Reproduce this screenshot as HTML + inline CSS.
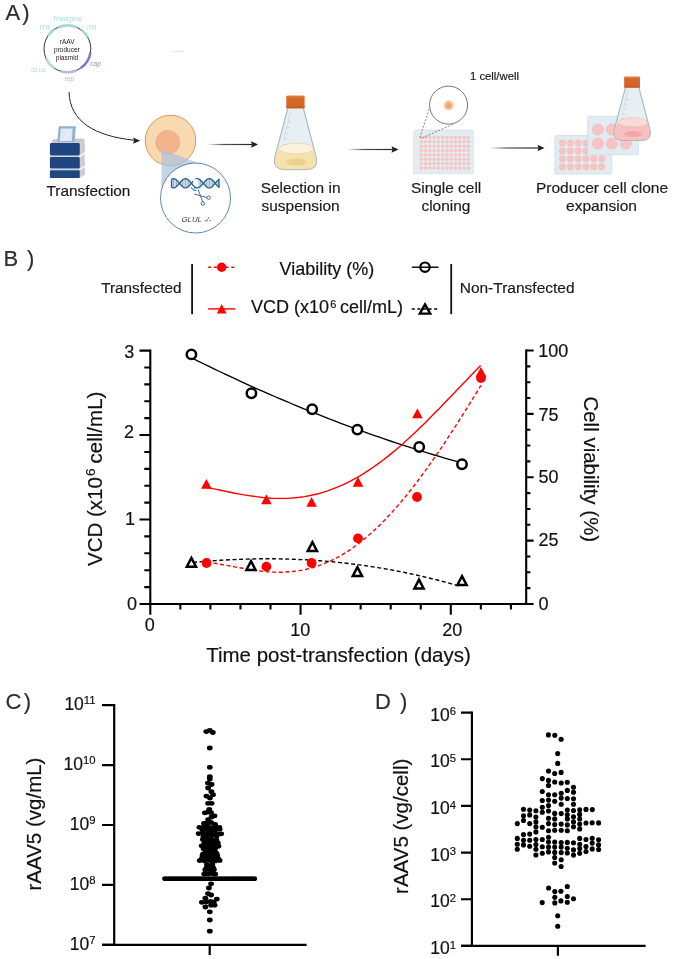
<!DOCTYPE html>
<html><head><meta charset="utf-8"><style>
html,body{margin:0;padding:0;background:#fff;}
svg{display:block;will-change:transform;font-family:"Liberation Sans", sans-serif;}
text{stroke-width:0.18px;}
</style></head><body>
<svg width="685" height="959" viewBox="0 0 685 959">
<g font-size="22" fill="#2d2d2d" stroke="#2d2d2d"><text x="5.5" y="20.2">A</text><text x="22.3" y="20.2">)</text></g>
<circle cx="67.4" cy="48.8" r="23.4" fill="none" stroke="#222" stroke-width="0.9"/>
<path d="M76.9,27.4 A23.4,23.4 0 0 0 58.3,27.3" fill="none" stroke="#a3d6de" stroke-width="2.6"/>
<path d="M53.3,30.1 A23.4,23.4 0 0 0 47.8,36.1" fill="none" stroke="#a3d6de" stroke-width="2.6"/>
<path d="M87.7,37.1 A23.4,23.4 0 0 0 82.1,30.6" fill="none" stroke="#a3d6de" stroke-width="2.6"/>
<path d="M90.5,52.5 A23.4,23.4 0 0 1 80.8,68.0" fill="none" stroke="#7c7fc4" stroke-width="2.6"/>
<path d="M76.2,70.5 A23.4,23.4 0 0 1 60.6,71.2" fill="none" stroke="#bcb6e4" stroke-width="2.6"/>
<path d="M54.3,68.2 A23.4,23.4 0 0 1 46.2,58.7" fill="none" stroke="#b0dcd6" stroke-width="2.6"/>
<g font-size="6.3" fill="#a9dce0" text-anchor="middle"><text x="67.4" y="21.2">Transgene</text><text x="44.7" y="29.8">ITR</text><text x="91.4" y="29.8">ITR</text></g>
<g font-size="6.5" fill="#222" text-anchor="middle"><text x="67.2" y="43.8">rAAV</text><text x="66.9" y="51.6">producer</text><text x="67" y="59.5">plasmid</text></g>
<g font-size="6.6" font-style="italic" text-anchor="middle" style="font-style:italic"><text x="95.5" y="66" fill="#8e92d2">cap</text><text x="38.6" y="71.5" font-size="5.9" fill="#b3dabc">GLUL</text><text x="69.3" y="80.5" fill="#bab5e5">rep</text></g>
<defs><linearGradient id="fl" x1="0" x2="1"><stop offset="0" stop-color="#fff"/><stop offset="1" stop-color="#ddd"/></linearGradient><linearGradient id="ar" x1="0" x2="1"><stop offset="0" stop-color="#fff"/><stop offset="0.35" stop-color="#555"/><stop offset="1" stop-color="#222"/></linearGradient></defs>
<rect x="166" y="50.7" width="17.5" height="1.6" fill="url(#fl)"/>
<path d="M69,92 C70,122 95,136 134,140.2" fill="none" stroke="#222" stroke-width="1"/>
<path d="M140.2,140.7 L133,137.4 L134.2,140.5 L133,143.8 Z" fill="#222"/>
<g><path d="M51.6,143 L53,139.2 L83.2,138.4 L85.1,140.8 L79.8,143.5 Z" fill="#c9c9c9"/><path d="M58.8,126.2 L75.9,126.2 L74.5,141.7 L57.2,141.7 Z" fill="#8fb1d2"/><path d="M60.7,128.5 L72.7,128.5 L71.8,141 L59.6,141 Z" fill="#e0e8f8"/><path d="M64,140 L71,129.5" stroke="#f4f7fd" stroke-width="0.8"/><path d="M79.5,143.5 L84.6,140.5 L85.1,152 L79.5,155.8 Z" fill="#cdcdcd"/><path d="M79.5,157.3 L84.6,154 L85.1,165.5 L79.5,168.8 Z" fill="#cdcdcd"/><path d="M79.5,170.4 L84.6,167 L85.1,174.5 L79.5,178 Z" fill="#cdcdcd"/><rect x="49.9" y="155.3" width="30" height="2" fill="#d6d6d6"/><rect x="49.9" y="168.6" width="30" height="2" fill="#d6d6d6"/><rect x="49.9" y="143" width="29.9" height="12.5" rx="1.4" fill="#1f4680"/><rect x="49.9" y="157.1" width="29.9" height="11.5" rx="1.4" fill="#1f4680"/><rect x="49.9" y="170.3" width="29.9" height="7.6" rx="1" fill="#1f4680"/></g>
<text x="46.5" y="196.3" font-size="15.35" fill="#1a1a1a" stroke="#1a1a1a">Transfection</text>
<circle cx="170.5" cy="140.5" r="25.3" fill="#f9dab0" stroke="#d58c55" stroke-width="0.9"/>
<circle cx="167.8" cy="142.4" r="12" fill="#f1b48d" stroke="#e6a67e" stroke-width="0.6"/>
<path d="M161.5,149.5 L161.5,190 L199.6,163.4 Z" fill="#a9c2dd" fill-opacity="0.7"/>
<circle cx="195.5" cy="198" r="35" fill="#fff" stroke="#5177b0" stroke-width="0.9"/>
<path d="M172.0,179.7 L172.0,186.9 M173.5,179.3 L173.5,187.3 M175.0,179.6 L175.0,187.0 M176.5,180.6 L176.5,186.0 M178.0,182.1 L178.0,184.5 M181.0,182.1 L181.0,184.5 M182.5,180.6 L182.5,186.0 M184.0,179.6 L184.0,187.0 M185.5,179.3 L185.5,187.3 M187.0,179.7 L187.0,186.9 M188.5,180.7 L188.5,185.9 M190.0,182.2 L190.0,184.4 M199.0,179.7 L199.0,186.9 M200.5,180.8 L200.5,185.8 M202.0,182.4 L202.0,184.2 M205.0,181.9 L205.0,184.7 M206.5,180.5 L206.5,186.1 M208.0,179.5 L208.0,187.1 M209.5,179.3 L209.5,187.3 M211.0,179.8 L211.0,186.8 M212.5,180.9 L212.5,185.7 M214.0,182.5 L214.0,184.1 M217.0,181.8 L217.0,184.8 M218.5,180.4 L218.5,186.2 " stroke="#7d9fbf" stroke-width="0.8"/>
<path d="M171.5,179.4 L172.0,179.1 L172.5,178.9 L173.0,178.7 L173.5,178.7 L174.0,178.7 L174.5,178.8 L175.0,179.0 L175.5,179.3 L176.0,179.6 L176.5,180.0 L177.0,180.5 L177.5,181.0 L178.0,181.5 L178.5,182.1 L179.0,182.7 L179.5,183.3 L180.0,183.9 L180.5,184.5 L181.0,185.1 L181.5,185.6 L182.0,186.1 L182.5,186.6 L183.0,187.0 L183.5,187.3 L184.0,187.6 L184.5,187.8 L185.0,187.9 L185.5,187.9 L186.0,187.9 L186.5,187.7 L187.0,187.5 L187.5,187.2 L188.0,186.9 L188.5,186.5 L189.0,186.0 L189.5,185.5 L190.0,185.0 L190.5,184.4 L191.0,183.8 L191.5,183.2 L192.0,182.6 L192.5,182.0 L193.0,181.4 L193.5,180.9 L194.0,180.4 L194.5,179.9 L195.0,179.6 L195.5,179.2 L196.0,179.0 L196.5,178.8 L197.0,178.7 L197.5,178.7 L198.0,178.8 L198.5,178.9 L199.0,179.1 L199.5,179.4 L200.0,179.8 L200.5,180.2 L201.0,180.7 L201.5,181.2 L202.0,181.8 L202.5,182.3 L203.0,182.9 L203.5,183.5 L204.0,184.1 L204.5,184.7 L205.0,185.3 L205.5,185.8 L206.0,186.3 L206.5,186.7 L207.0,187.1 L207.5,187.4 L208.0,187.7 L208.5,187.8 L209.0,187.9 L209.5,187.9 L210.0,187.8 L210.5,187.7 L211.0,187.4 L211.5,187.1 L212.0,186.7 L212.5,186.3 L213.0,185.8 L213.5,185.3 L214.0,184.7 L214.5,184.1 L215.0,183.5 L215.5,182.9 L216.0,182.3 L216.5,181.8 L217.0,181.2 L217.5,180.7 L218.0,180.2 L218.5,179.8 L219.0,179.4 L219.5,179.1" fill="none" stroke="#2d5f8a" stroke-width="1.35"/>
<path d="M171.5,187.2 L172.0,187.5 L172.5,187.7 L173.0,187.9 L173.5,187.9 L174.0,187.9 L174.5,187.8 L175.0,187.6 L175.5,187.3 L176.0,187.0 L176.5,186.6 L177.0,186.1 L177.5,185.6 L178.0,185.1 L178.5,184.5 L179.0,183.9 L179.5,183.3 L180.0,182.7 L180.5,182.1 L181.0,181.5 L181.5,181.0 L182.0,180.5 L182.5,180.0 L183.0,179.6 L183.5,179.3 L184.0,179.0 L184.5,178.8 L185.0,178.7 L185.5,178.7 L186.0,178.7 L186.5,178.9 L187.0,179.1 L187.5,179.4 L188.0,179.7 L188.5,180.1 L189.0,180.6 L189.5,181.1 L190.0,181.6 L190.5,182.2 L191.0,182.8 L191.5,183.4 L192.0,184.0 L192.5,184.6 L193.0,185.2 L193.5,185.7 L194.0,186.2 L194.5,186.7 L195.0,187.0 L195.5,187.4 L196.0,187.6 L196.5,187.8 L197.0,187.9 L197.5,187.9 L198.0,187.8 L198.5,187.7 L199.0,187.5 L199.5,187.2 L200.0,186.8 L200.5,186.4 L201.0,185.9 L201.5,185.4 L202.0,184.8 L202.5,184.3 L203.0,183.7 L203.5,183.1 L204.0,182.5 L204.5,181.9 L205.0,181.3 L205.5,180.8 L206.0,180.3 L206.5,179.9 L207.0,179.5 L207.5,179.2 L208.0,178.9 L208.5,178.8 L209.0,178.7 L209.5,178.7 L210.0,178.8 L210.5,178.9 L211.0,179.2 L211.5,179.5 L212.0,179.9 L212.5,180.3 L213.0,180.8 L213.5,181.3 L214.0,181.9 L214.5,182.5 L215.0,183.1 L215.5,183.7 L216.0,184.3 L216.5,184.8 L217.0,185.4 L217.5,185.9 L218.0,186.4 L218.5,186.8 L219.0,187.2 L219.5,187.5" fill="none" stroke="#2d5f8a" stroke-width="1.35"/>
<rect x="193" y="179" width="4.5" height="6" fill="#fff" fill-opacity="0.85"/>
<path d="M171.5,179.5 L171.5,187.3 M219,179.5 L219,187.3" stroke="#2d5f8a" stroke-width="1.3"/>
<g stroke="#2d5f8a" stroke-width="0.9" fill="none"><path d="M194.2,194 L207,197.6"/><path d="M198.3,190 L202.8,202"/><circle cx="202.8" cy="203.6" r="1.7" fill="#fff"/><circle cx="208.6" cy="197.7" r="1.7" fill="#fff"/></g>
<path d="M191.2,187.2 Q192.5,190.5 196.5,190.8 M194.5,186.5 L195,189.5" stroke="#2f9ad8" stroke-width="1.1" fill="none"/>
<text x="181.5" y="221.7" font-size="7.8" font-style="italic" fill="#3a3a3a">GLUL -/-</text>
<rect x="207" y="143.9" width="46" height="1.2" fill="url(#ar)"/><path d="M258,144.5 L251,141.2 L252,144.5 L251,147.8 Z" fill="#222"/>
<rect x="347" y="148.9" width="46.5" height="1.2" fill="url(#ar)"/><path d="M398.5,149.5 L391.5,146.2 L392.5,149.5 L391.5,152.8 Z" fill="#222"/>
<rect x="489" y="147.4" width="50.5" height="1.2" fill="url(#ar)"/><path d="M544.5,148 L537.5,144.7 L538.5,148 L537.5,151.3 Z" fill="#222"/>
<path d="M288.00,107.50 L303.20,107.50 L316.40,158.00 Q318.50,169.60 306.00,169.60 L285.00,169.60 Q272.60,169.60 274.60,158.00 Z" fill="#e8eff3" stroke="#a3b1b9" stroke-width="0.7"/><path d="M279.00,148.50 L314.00,148.50 L316.40,158.00 Q318.50,169.60 306.00,169.60 L285.00,169.60 Q272.60,169.60 274.60,158.00 Z" fill="#f5e1ad"/><ellipse cx="296.50" cy="162.10" rx="10.50" ry="3.50" fill="#ecd28f"/><ellipse cx="296.50" cy="148.50" rx="17.30" ry="5.40" fill="#fbf1dc" stroke="#d6bd86" stroke-width="0.5" stroke-opacity="0.8"/><path d="M288.00,107.50 L303.20,107.50 L316.40,158.00 Q318.50,169.60 306.00,169.60 L285.00,169.60 Q272.60,169.60 274.60,158.00 Z" fill="none" stroke="#a3b1b9" stroke-width="0.7"/><path d="M291.00,110.00 L283.50,140.00" stroke="#cfdbe1" stroke-width="0.8"/><path d="M288.30,122.00 l2.80,0 M287.05,127.60 l2.80,0 M285.80,133.20 l2.80,0 M284.55,138.80 l2.80,0 M283.30,144.40 l2.80,0 " stroke="#a7b6bf" stroke-width="0.5"/><rect x="286.30" y="95.80" width="18.30" height="12.50" rx="1.60" fill="#d8692a"/><rect x="286.30" y="95.80" width="18.30" height="1.80" rx="0.90" fill="#e07a38"/><path d="M287.95,98.00 l0,8.50 M289.85,98.00 l0,8.50 M291.75,98.00 l0,8.50 M293.65,98.00 l0,8.50 M295.55,98.00 l0,8.50 M297.45,98.00 l0,8.50 M299.35,98.00 l0,8.50 M301.25,98.00 l0,8.50 M303.15,98.00 l0,8.50 " stroke="#c55d22" stroke-width="0.5" stroke-opacity="0.6"/><rect x="286.30" y="106.40" width="18.30" height="1.90" fill="#c85e22"/>
<g font-size="15.45" fill="#1a1a1a" text-anchor="middle" stroke="#1a1a1a"><text x="300.6" y="192.8">Selection in</text><text x="300.6" y="210.8">suspension</text></g>
<path d="M415.6,130 L473.4,130 L473.4,173.5 L413.6,173.5 L413.6,132 Z" fill="#e3ecf0" stroke="#d0dbe1" stroke-width="0.6"/>
<g fill="#f6c4c4"><circle cx="421.30" cy="137.40" r="1.75"/><circle cx="425.57" cy="137.40" r="1.75"/><circle cx="429.84" cy="137.40" r="1.75"/><circle cx="434.11" cy="137.40" r="1.75"/><circle cx="438.38" cy="137.40" r="1.75"/><circle cx="442.65" cy="137.40" r="1.75"/><circle cx="446.92" cy="137.40" r="1.75"/><circle cx="451.19" cy="137.40" r="1.75"/><circle cx="455.46" cy="137.40" r="1.75"/><circle cx="459.73" cy="137.40" r="1.75"/><circle cx="464.00" cy="137.40" r="1.75"/><circle cx="468.27" cy="137.40" r="1.75"/><circle cx="421.30" cy="141.77" r="1.75"/><circle cx="425.57" cy="141.77" r="1.75"/><circle cx="429.84" cy="141.77" r="1.75"/><circle cx="434.11" cy="141.77" r="1.75"/><circle cx="438.38" cy="141.77" r="1.75"/><circle cx="442.65" cy="141.77" r="1.75"/><circle cx="446.92" cy="141.77" r="1.75"/><circle cx="451.19" cy="141.77" r="1.75"/><circle cx="455.46" cy="141.77" r="1.75"/><circle cx="459.73" cy="141.77" r="1.75"/><circle cx="464.00" cy="141.77" r="1.75"/><circle cx="468.27" cy="141.77" r="1.75"/><circle cx="421.30" cy="146.14" r="1.75"/><circle cx="425.57" cy="146.14" r="1.75"/><circle cx="429.84" cy="146.14" r="1.75"/><circle cx="434.11" cy="146.14" r="1.75"/><circle cx="438.38" cy="146.14" r="1.75"/><circle cx="442.65" cy="146.14" r="1.75"/><circle cx="446.92" cy="146.14" r="1.75"/><circle cx="451.19" cy="146.14" r="1.75"/><circle cx="455.46" cy="146.14" r="1.75"/><circle cx="459.73" cy="146.14" r="1.75"/><circle cx="464.00" cy="146.14" r="1.75"/><circle cx="468.27" cy="146.14" r="1.75"/><circle cx="421.30" cy="150.51" r="1.75"/><circle cx="425.57" cy="150.51" r="1.75"/><circle cx="429.84" cy="150.51" r="1.75"/><circle cx="434.11" cy="150.51" r="1.75"/><circle cx="438.38" cy="150.51" r="1.75"/><circle cx="442.65" cy="150.51" r="1.75"/><circle cx="446.92" cy="150.51" r="1.75"/><circle cx="451.19" cy="150.51" r="1.75"/><circle cx="455.46" cy="150.51" r="1.75"/><circle cx="459.73" cy="150.51" r="1.75"/><circle cx="464.00" cy="150.51" r="1.75"/><circle cx="468.27" cy="150.51" r="1.75"/><circle cx="421.30" cy="154.88" r="1.75"/><circle cx="425.57" cy="154.88" r="1.75"/><circle cx="429.84" cy="154.88" r="1.75"/><circle cx="434.11" cy="154.88" r="1.75"/><circle cx="438.38" cy="154.88" r="1.75"/><circle cx="442.65" cy="154.88" r="1.75"/><circle cx="446.92" cy="154.88" r="1.75"/><circle cx="451.19" cy="154.88" r="1.75"/><circle cx="455.46" cy="154.88" r="1.75"/><circle cx="459.73" cy="154.88" r="1.75"/><circle cx="464.00" cy="154.88" r="1.75"/><circle cx="468.27" cy="154.88" r="1.75"/><circle cx="421.30" cy="159.25" r="1.75"/><circle cx="425.57" cy="159.25" r="1.75"/><circle cx="429.84" cy="159.25" r="1.75"/><circle cx="434.11" cy="159.25" r="1.75"/><circle cx="438.38" cy="159.25" r="1.75"/><circle cx="442.65" cy="159.25" r="1.75"/><circle cx="446.92" cy="159.25" r="1.75"/><circle cx="451.19" cy="159.25" r="1.75"/><circle cx="455.46" cy="159.25" r="1.75"/><circle cx="459.73" cy="159.25" r="1.75"/><circle cx="464.00" cy="159.25" r="1.75"/><circle cx="468.27" cy="159.25" r="1.75"/><circle cx="421.30" cy="163.62" r="1.75"/><circle cx="425.57" cy="163.62" r="1.75"/><circle cx="429.84" cy="163.62" r="1.75"/><circle cx="434.11" cy="163.62" r="1.75"/><circle cx="438.38" cy="163.62" r="1.75"/><circle cx="442.65" cy="163.62" r="1.75"/><circle cx="446.92" cy="163.62" r="1.75"/><circle cx="451.19" cy="163.62" r="1.75"/><circle cx="455.46" cy="163.62" r="1.75"/><circle cx="459.73" cy="163.62" r="1.75"/><circle cx="464.00" cy="163.62" r="1.75"/><circle cx="468.27" cy="163.62" r="1.75"/><circle cx="421.30" cy="167.99" r="1.75"/><circle cx="425.57" cy="167.99" r="1.75"/><circle cx="429.84" cy="167.99" r="1.75"/><circle cx="434.11" cy="167.99" r="1.75"/><circle cx="438.38" cy="167.99" r="1.75"/><circle cx="442.65" cy="167.99" r="1.75"/><circle cx="446.92" cy="167.99" r="1.75"/><circle cx="451.19" cy="167.99" r="1.75"/><circle cx="455.46" cy="167.99" r="1.75"/><circle cx="459.73" cy="167.99" r="1.75"/><circle cx="464.00" cy="167.99" r="1.75"/><circle cx="468.27" cy="167.99" r="1.75"/></g>
<circle cx="448.55" cy="105.1" r="19" fill="#fff" stroke="#6a6a6a" stroke-width="0.9"/>
<circle cx="448.7" cy="105.3" r="4.9" fill="#f6c590"/><circle cx="448.7" cy="105.5" r="2.6" fill="#eca27e"/>
<path d="M419.8,137.7 L429.5,108.1 M422.3,138 L454.5,123.4" stroke="#555" stroke-width="0.7" stroke-dasharray="2,1.5"/>
<text x="470" y="79.7" font-size="11.3" fill="#1a1a1a" stroke="#1a1a1a">1 cell/well</text>
<g font-size="15.45" fill="#1a1a1a" text-anchor="middle" stroke="#1a1a1a"><text x="446.1" y="192.7">Single cell</text><text x="445.9" y="210.8">cloning</text></g>
<rect x="554.8" y="135.4" width="57" height="38.6" rx="0.8" fill="#e2ebf0" stroke="#c6d3db" stroke-width="0.6"/>
<g fill="#f7c3c3" stroke="#eaaaaa" stroke-width="0.35"><circle cx="562.50" cy="143.10" r="3.2"/><circle cx="570.34" cy="143.10" r="3.2"/><circle cx="578.18" cy="143.10" r="3.2"/><circle cx="586.02" cy="143.10" r="3.2"/><circle cx="593.86" cy="143.10" r="3.2"/><circle cx="601.70" cy="143.10" r="3.2"/><circle cx="562.50" cy="150.97" r="3.2"/><circle cx="570.34" cy="150.97" r="3.2"/><circle cx="578.18" cy="150.97" r="3.2"/><circle cx="586.02" cy="150.97" r="3.2"/><circle cx="593.86" cy="150.97" r="3.2"/><circle cx="601.70" cy="150.97" r="3.2"/><circle cx="562.50" cy="158.84" r="3.2"/><circle cx="570.34" cy="158.84" r="3.2"/><circle cx="578.18" cy="158.84" r="3.2"/><circle cx="586.02" cy="158.84" r="3.2"/><circle cx="593.86" cy="158.84" r="3.2"/><circle cx="601.70" cy="158.84" r="3.2"/><circle cx="562.50" cy="166.71" r="3.2"/><circle cx="570.34" cy="166.71" r="3.2"/><circle cx="578.18" cy="166.71" r="3.2"/><circle cx="586.02" cy="166.71" r="3.2"/><circle cx="593.86" cy="166.71" r="3.2"/><circle cx="601.70" cy="166.71" r="3.2"/></g>
<rect x="587.7" y="116.2" width="50.9" height="38.5" rx="0.8" fill="#e2ebf0" stroke="#c6d3db" stroke-width="0.6"/>
<g fill="#f7c3c3" stroke="#eaaaaa" stroke-width="0.35"><circle cx="597.90" cy="129.50" r="5.6"/><circle cx="611.85" cy="129.50" r="5.6"/><circle cx="625.80" cy="129.50" r="5.6"/><circle cx="597.90" cy="143.50" r="5.6"/><circle cx="611.85" cy="143.50" r="5.6"/><circle cx="625.80" cy="143.50" r="5.6"/></g>
<path d="M625.62,86.90 L638.74,86.90 L650.13,130.48 Q651.94,140.49 641.15,140.49 L623.03,140.49 Q612.33,140.49 614.06,130.48 Z" fill="#e8eff3" stroke="#a3b1b9" stroke-width="0.7"/><path d="M617.85,122.28 L648.06,122.28 L650.13,130.48 Q651.94,140.49 641.15,140.49 L623.03,140.49 Q612.33,140.49 614.06,130.48 Z" fill="#f7c1c1"/><ellipse cx="632.96" cy="134.02" rx="9.06" ry="3.02" fill="#f3a8a8"/><ellipse cx="632.96" cy="122.28" rx="14.93" ry="4.66" fill="#f9d9d9" stroke="#d6bd86" stroke-width="0.5" stroke-opacity="0.8"/><path d="M625.62,86.90 L638.74,86.90 L650.13,130.48 Q651.94,140.49 641.15,140.49 L623.03,140.49 Q612.33,140.49 614.06,130.48 Z" fill="none" stroke="#a3b1b9" stroke-width="0.7"/><path d="M628.21,89.05 L621.74,114.94" stroke="#cfdbe1" stroke-width="0.8"/><path d="M625.88,99.41 l2.42,0 M624.80,104.24 l2.42,0 M623.72,109.08 l2.42,0 M622.64,113.91 l2.42,0 M621.56,118.74 l2.42,0 " stroke="#a7b6bf" stroke-width="0.5"/><rect x="624.15" y="76.80" width="15.79" height="10.79" rx="1.38" fill="#d8692a"/><rect x="624.15" y="76.80" width="15.79" height="1.55" rx="0.78" fill="#e07a38"/><path d="M625.58,78.70 l0,7.34 M627.22,78.70 l0,7.34 M628.86,78.70 l0,7.34 M630.50,78.70 l0,7.34 M632.14,78.70 l0,7.34 M633.78,78.70 l0,7.34 M635.42,78.70 l0,7.34 M637.06,78.70 l0,7.34 M638.70,78.70 l0,7.34 " stroke="#c55d22" stroke-width="0.5" stroke-opacity="0.6"/><rect x="624.15" y="85.95" width="15.79" height="1.64" fill="#c85e22"/>
<g font-size="15.55" fill="#1a1a1a" text-anchor="middle" stroke="#1a1a1a"><text x="602" y="193.3">Producer cell clone</text><text x="601.5" y="210.8">expansion</text></g>
<g font-size="22" fill="#2d2d2d" stroke="#2d2d2d"><text x="3.5" y="265.6">B</text><text x="27" y="265.6">)</text></g>
<text x="101.2" y="292.7" font-size="15.3" fill="#1a1a1a" stroke="#1a1a1a">Transfected</text>
<rect x="191.2" y="264" width="1.8" height="50.2" fill="#111"/>
<rect x="450.3" y="264" width="1.8" height="50.2" fill="#111"/>
<text x="459.7" y="292.7" font-size="15.5" fill="#1a1a1a" stroke="#1a1a1a">Non-Transfected</text>
<path d="M208.1,267.2 L235.1,267.2" stroke="#f00" stroke-width="1.4" stroke-dasharray="3,2.8"/>
<circle cx="221.7" cy="267.2" r="4.7" fill="#f00"/>
<path d="M208.1,308.9 L235.1,308.9" stroke="#f00" stroke-width="1.4"/>
<path d="M221.7,303.9 L226.6,313.5 L216.8,313.5 Z" fill="#f00"/>
<path d="M411.8,267.2 L438.5,267.2" stroke="#000" stroke-width="1.4"/>
<circle cx="425" cy="267.2" r="4.7" fill="none" stroke="#000" stroke-width="2.2"/>
<path d="M411.8,309 L438.5,309" stroke="#000" stroke-width="1.4" stroke-dasharray="3,2.6"/>
<path d="M425,304.4 L430.2,313.6 L419.8,313.6 Z" fill="none" stroke="#000" stroke-width="2.4" stroke-linejoin="miter"/>
<text x="279.6" y="274.5" font-size="18" fill="#111" stroke="#111">Viability (%)</text>
<text x="250.9" y="313.3" font-size="18" fill="#111" stroke="#111">VCD (x10<tspan font-size="11" dy="-5.6" dx="1.4">6</tspan><tspan dy="5.6" dx="-1.4"> cell/mL)</tspan></text>
<g stroke="#000" fill="none">
<path d="M150.3,349.4 L150.3,605 M149.2,604 L527.3,604" stroke-width="2.1"/>
<path d="M526.2,349.4 L526.2,605" stroke-width="2.1"/>
<path d="M139.5,604.00 L150.3,604.00 M144.3,587.11 L150.3,587.11 M144.3,570.21 L150.3,570.21 M144.3,553.32 L150.3,553.32 M144.3,536.42 L150.3,536.42 M139.5,519.53 L150.3,519.53 M144.3,502.64 L150.3,502.64 M144.3,485.74 L150.3,485.74 M144.3,468.85 L150.3,468.85 M144.3,451.95 L150.3,451.95 M139.5,435.06 L150.3,435.06 M144.3,418.17 L150.3,418.17 M144.3,401.27 L150.3,401.27 M144.3,384.38 L150.3,384.38 M144.3,367.48 L150.3,367.48 M139.5,350.59 L150.3,350.59 M526.2,604.00 L533.6,604.00 M526.2,588.16 L530.4,588.16 M526.2,572.31 L530.4,572.31 M526.2,556.47 L530.4,556.47 M526.2,540.62 L533.6,540.62 M526.2,524.78 L530.4,524.78 M526.2,508.94 L530.4,508.94 M526.2,493.09 L530.4,493.09 M526.2,477.25 L533.6,477.25 M526.2,461.41 L530.4,461.41 M526.2,445.56 L530.4,445.56 M526.2,429.72 L530.4,429.72 M526.2,413.88 L533.6,413.88 M526.2,398.03 L530.4,398.03 M526.2,382.19 L530.4,382.19 M526.2,366.34 L530.4,366.34 M526.2,350.50 L533.6,350.50 M150.30,604 L150.30,614.8 M180.35,604 L180.35,609.6 M210.40,604 L210.40,609.6 M240.45,604 L240.45,609.6 M270.50,604 L270.50,609.6 M300.55,604 L300.55,614.8 M330.60,604 L330.60,609.6 M360.65,604 L360.65,609.6 M390.70,604 L390.70,609.6 M420.75,604 L420.75,609.6 M450.80,604 L450.80,614.8 M480.85,604 L480.85,609.6 M510.90,604 L510.90,609.6 " stroke-width="2.1"/>
</g>
<g font-size="18" fill="#111" text-anchor="end" stroke="#111"><text x="137" y="610.2">0</text><text x="135" y="524.5">1</text><text x="134" y="438">2</text><text x="134.2" y="358.2">3</text></g>
<g font-size="18" fill="#111" stroke="#111"><text x="538.4" y="610.1">0</text><text x="538.6" y="546">25</text><text x="538.6" y="483.2">50</text><text x="538.5" y="421.4">75</text><text x="538.3" y="357">100</text></g>
<g font-size="18" fill="#111" text-anchor="middle" stroke="#111"><text x="149.7" y="631.2">0</text><text x="300.2" y="635.8">10</text><text x="452.2" y="635.8">20</text></g>
<text x="338.5" y="662" font-size="20.5" fill="#111" text-anchor="middle" stroke="#111">Time post-transfection (days)</text>
<text transform="translate(101.5,478.8) rotate(-90)" font-size="20.5" fill="#111" text-anchor="middle" stroke="#111">VCD (x10<tspan font-size="13.5" dy="-6.5" dx="1">6</tspan><tspan dy="6.5" dx="-0.5"> cell/mL)</tspan></text>
<text transform="translate(584,469.3) rotate(90)" font-size="20.5" fill="#111" text-anchor="middle" stroke="#111">Cell viability (%)</text>
<path d="M192.0,358.0 L197.5,360.8 L203.0,363.5 L208.5,366.2 L214.0,368.8 L219.6,371.5 L225.1,374.1 L230.6,376.7 L236.1,379.2 L241.6,381.8 L247.1,384.3 L252.6,386.8 L258.1,389.3 L263.6,391.7 L269.1,394.1 L274.7,396.5 L280.2,398.9 L285.7,401.2 L291.2,403.5 L296.7,405.8 L302.2,408.1 L307.7,410.3 L313.2,412.6 L318.7,414.7 L324.2,416.9 L329.8,419.1 L335.3,421.2 L340.8,423.3 L346.3,425.3 L351.8,427.4 L357.3,429.4 L362.8,431.4 L368.3,433.3 L373.8,435.3 L379.3,437.2 L384.9,439.1 L390.4,441.0 L395.9,442.8 L401.4,444.6 L406.9,446.4 L412.4,448.2 L417.9,449.9 L423.4,451.7 L428.9,453.3 L434.4,455.0 L440.0,456.7 L445.5,458.3 L451.0,459.9 L456.5,461.4 L462.0,463.0" fill="none" stroke="#000" stroke-width="1.35"/>
<path d="M207.0,487.5 L211.6,488.4 L216.3,489.4 L220.9,490.3 L225.5,491.3 L230.2,492.3 L234.8,493.2 L239.5,494.1 L244.1,494.9 L248.7,495.6 L253.4,496.3 L258.0,496.9 L262.6,497.5 L267.3,497.9 L271.9,498.2 L276.6,498.4 L281.2,498.4 L285.8,498.4 L290.5,498.1 L295.1,497.8 L299.7,497.3 L304.4,496.6 L309.0,495.8 L313.7,494.8 L318.3,493.7 L322.9,492.4 L327.6,490.9 L332.2,489.2 L336.8,487.4 L341.5,485.4 L346.1,483.3 L350.8,480.9 L355.4,478.4 L360.0,475.8 L364.7,472.9 L369.3,469.9 L373.9,466.8 L378.6,463.4 L383.2,460.0 L387.9,456.4 L392.5,452.6 L397.1,448.7 L401.8,444.7 L406.4,440.5 L411.0,436.3 L415.7,431.9 L420.3,427.5 L425.0,422.9 L429.6,418.3 L434.2,413.6 L438.9,408.9 L443.5,404.1 L448.1,399.3 L452.8,394.4 L457.4,389.5 L462.1,384.7 L466.7,379.9 L471.3,375.1 L476.0,370.3 L480.6,365.6" fill="none" stroke="#f00" stroke-width="1.4"/>
<path d="M207.0,562.2 L211.0,562.7 L214.9,563.3 L218.9,564.0 L222.9,564.7 L226.9,565.4 L230.8,566.1 L234.8,566.9 L238.8,567.6 L242.7,568.3 L246.7,569.0 L250.7,569.7 L254.7,570.3 L258.6,570.8 L262.6,571.3 L266.6,571.6 L270.5,571.9 L274.5,572.1 L278.5,572.2 L282.4,572.2 L286.4,572.0 L290.4,571.7 L294.4,571.3 L298.3,570.8 L302.3,570.1 L306.3,569.3 L310.2,568.3 L314.2,567.2 L318.2,565.9 L322.2,564.4 L326.1,562.8 L330.1,561.1 L334.1,559.2 L338.0,557.1 L342.0,554.8 L346.0,552.4 L350.0,549.8 L353.9,547.0 L357.9,544.1 L361.9,541.0 L365.8,537.7 L369.8,534.3 L373.8,530.7 L377.8,527.0 L381.7,523.1 L385.7,519.0 L389.7,514.8 L393.6,510.4 L397.6,505.9 L401.6,501.3 L405.6,496.5 L409.5,491.5 L413.5,486.5 L417.5,481.3 L421.4,476.0 L425.4,470.6 L429.4,465.0 L433.3,459.4 L437.3,453.6 L441.3,447.8 L445.3,441.9 L449.2,435.8 L453.2,429.7 L457.2,423.5 L461.1,417.3 L465.1,411.0 L469.1,404.6 L473.1,398.2 L477.0,391.8 L481.0,385.3" fill="none" stroke="#f00" stroke-width="1.4" stroke-dasharray="4,2.6"/>
<path d="M193.0,562.5 L197.5,562.0 L202.0,561.6 L206.5,561.3 L211.0,560.9 L215.5,560.6 L220.1,560.3 L224.6,560.0 L229.1,559.8 L233.6,559.6 L238.1,559.4 L242.6,559.2 L247.1,559.1 L251.6,559.0 L256.1,558.9 L260.6,558.8 L265.1,558.8 L269.6,558.8 L274.2,558.8 L278.7,558.9 L283.2,559.0 L287.7,559.1 L292.2,559.2 L296.7,559.4 L301.2,559.6 L305.7,559.8 L310.2,560.1 L314.7,560.4 L319.2,560.7 L323.7,561.0 L328.3,561.4 L332.8,561.8 L337.3,562.3 L341.8,562.7 L346.3,563.2 L350.8,563.8 L355.3,564.3 L359.8,564.9 L364.3,565.5 L368.8,566.2 L373.3,566.9 L377.8,567.6 L382.4,568.3 L386.9,569.1 L391.4,569.9 L395.9,570.8 L400.4,571.6 L404.9,572.5 L409.4,573.5 L413.9,574.5 L418.4,575.5 L422.9,576.5 L427.4,577.6 L431.9,578.7 L436.5,579.8 L441.0,581.0 L445.5,582.2 L450.0,583.4 L454.5,584.7 L459.0,586.0" fill="none" stroke="#000" stroke-width="1.4" stroke-dasharray="4,2.6"/>
<circle cx="191.4" cy="354.4" r="4.7" fill="#fff" stroke="#000" stroke-width="2.5"/>
<circle cx="251.4" cy="393.2" r="4.7" fill="#fff" stroke="#000" stroke-width="2.5"/>
<circle cx="312.2" cy="409.2" r="4.7" fill="#fff" stroke="#000" stroke-width="2.5"/>
<circle cx="357.4" cy="429.6" r="4.7" fill="#fff" stroke="#000" stroke-width="2.5"/>
<circle cx="419.2" cy="447" r="4.7" fill="#fff" stroke="#000" stroke-width="2.5"/>
<circle cx="462" cy="464.2" r="4.7" fill="#fff" stroke="#000" stroke-width="2.5"/>
<path d="M191.4,557.9000000000001 L196.0,566.7 L186.8,566.7 Z" fill="#fff" stroke="#000" stroke-width="2.5"/>
<path d="M251,561.2 L255.6,570.0 L246.4,570.0 Z" fill="#fff" stroke="#000" stroke-width="2.5"/>
<path d="M312.4,542.2 L317.0,551.0 L307.79999999999995,551.0 Z" fill="#fff" stroke="#000" stroke-width="2.5"/>
<path d="M357.4,567.2 L362.0,576.0 L352.79999999999995,576.0 Z" fill="#fff" stroke="#000" stroke-width="2.5"/>
<path d="M419,579.7 L423.6,588.5 L414.4,588.5 Z" fill="#fff" stroke="#000" stroke-width="2.5"/>
<path d="M462,576.2 L466.6,585.0 L457.4,585.0 Z" fill="#fff" stroke="#000" stroke-width="2.5"/>
<path d="M206.4,479 L211.70000000000002,488.8 L201.1,488.8 Z" fill="#f00"/>
<path d="M266.4,494.4 L271.7,504.2 L261.09999999999997,504.2 Z" fill="#f00"/>
<path d="M311.6,497 L316.90000000000003,506.8 L306.3,506.8 Z" fill="#f00"/>
<path d="M358,477 L363.3,486.8 L352.7,486.8 Z" fill="#f00"/>
<path d="M417.4,408.4 L422.7,418.2 L412.09999999999997,418.2 Z" fill="#f00"/>
<path d="M481,367 L486.3,376.8 L475.7,376.8 Z" fill="#f00"/>
<circle cx="206.6" cy="563" r="4.9" fill="#f00"/>
<circle cx="266.4" cy="566.6" r="4.9" fill="#f00"/>
<circle cx="311.6" cy="563" r="4.9" fill="#f00"/>
<circle cx="358" cy="538.4" r="4.9" fill="#f00"/>
<circle cx="417" cy="497" r="4.9" fill="#f00"/>
<circle cx="481" cy="378" r="4.9" fill="#f00"/>
<g font-size="22" fill="#2d2d2d" stroke="#2d2d2d"><text x="5.5" y="709.4">C</text><text x="23.8" y="709.4">)</text></g>
<g stroke="#000" stroke-width="2.2" fill="none">
<path d="M114.2,704 L114.2,946 M102,944.9 L306.6,944.9"/>
<path d="M102,705.10 L114.2,705.10 M102,765.05 L114.2,765.05 M102,825.00 L114.2,825.00 M102,884.95 L114.2,884.95 M102,944.90 L114.2,944.90 M209.7,944.9 L209.7,955"/>
</g>
<g font-size="17.5" fill="#111" text-anchor="end" stroke="#111"><text x="95.6" y="710.0">10<tspan font-size="11.3" dy="-5.6">11</tspan></text><text x="95.6" y="770.0">10<tspan font-size="11.3" dy="-5.6">10</tspan></text><text x="95.6" y="829.9">10<tspan font-size="11.3" dy="-5.6">9</tspan></text><text x="95.6" y="889.9">10<tspan font-size="11.3" dy="-5.6">8</tspan></text><text x="95.6" y="949.8">10<tspan font-size="11.3" dy="-5.6">7</tspan></text></g>
<text transform="translate(41,824) rotate(-90)" font-size="20.5" fill="#111" text-anchor="middle" stroke="#111">rAAV5 (vg/mL)</text>
<g fill="#000"><ellipse cx="206.3" cy="731.6" rx="2.9" ry="2.4"/><ellipse cx="209.8" cy="730.3" rx="2.9" ry="2.4"/><ellipse cx="212.8" cy="732.5" rx="2.9" ry="2.4"/><ellipse cx="209.8" cy="748.0" rx="2.9" ry="2.4"/><ellipse cx="209.8" cy="767.3" rx="2.9" ry="2.4"/><ellipse cx="209.8" cy="776.6" rx="2.9" ry="2.4"/><ellipse cx="209.8" cy="779.0" rx="2.9" ry="2.4"/><ellipse cx="207.9" cy="783.1" rx="2.9" ry="2.4"/><ellipse cx="211.6" cy="784.5" rx="2.9" ry="2.4"/><ellipse cx="208.1" cy="788.0" rx="2.9" ry="2.4"/><ellipse cx="211.4" cy="791.7" rx="2.9" ry="2.4"/><ellipse cx="206.4" cy="796.1" rx="2.9" ry="2.4"/><ellipse cx="213.0" cy="794.7" rx="2.9" ry="2.4"/><ellipse cx="209.9" cy="798.0" rx="2.9" ry="2.4"/><ellipse cx="208.1" cy="803.3" rx="2.9" ry="2.4"/><ellipse cx="211.6" cy="803.3" rx="2.9" ry="2.4"/><ellipse cx="209.3" cy="809.3" rx="2.9" ry="2.4"/><ellipse cx="204.9" cy="812.8" rx="2.9" ry="2.4"/><ellipse cx="208.1" cy="812.0" rx="2.9" ry="2.4"/><ellipse cx="211.0" cy="812.6" rx="2.9" ry="2.4"/><ellipse cx="214.5" cy="815.8" rx="2.9" ry="2.4"/><ellipse cx="211.6" cy="817.0" rx="2.9" ry="2.4"/><ellipse cx="208.1" cy="819.6" rx="2.9" ry="2.4"/><ellipse cx="204.0" cy="823.4" rx="2.9" ry="2.4"/><ellipse cx="207.5" cy="823.0" rx="2.9" ry="2.4"/><ellipse cx="211.0" cy="822.5" rx="2.9" ry="2.4"/><ellipse cx="215.1" cy="824.5" rx="2.9" ry="2.4"/><ellipse cx="199.4" cy="827.3" rx="2.9" ry="2.4"/><ellipse cx="203.4" cy="827.4" rx="2.9" ry="2.4"/><ellipse cx="207.4" cy="826.9" rx="2.9" ry="2.4"/><ellipse cx="210.8" cy="827.6" rx="2.9" ry="2.4"/><ellipse cx="214.8" cy="827.0" rx="2.9" ry="2.4"/><ellipse cx="219.3" cy="827.3" rx="2.9" ry="2.4"/><ellipse cx="202.5" cy="829.7" rx="2.9" ry="2.4"/><ellipse cx="206.6" cy="829.4" rx="2.9" ry="2.4"/><ellipse cx="211.0" cy="830.1" rx="2.9" ry="2.4"/><ellipse cx="215.2" cy="829.9" rx="2.9" ry="2.4"/><ellipse cx="219.6" cy="829.3" rx="2.9" ry="2.4"/><ellipse cx="198.6" cy="833.6" rx="2.9" ry="2.4"/><ellipse cx="202.8" cy="833.0" rx="2.9" ry="2.4"/><ellipse cx="207.9" cy="833.5" rx="2.9" ry="2.4"/><ellipse cx="212.3" cy="833.9" rx="2.9" ry="2.4"/><ellipse cx="216.9" cy="833.9" rx="2.9" ry="2.4"/><ellipse cx="221.2" cy="833.8" rx="2.9" ry="2.4"/><ellipse cx="203.4" cy="836.5" rx="2.9" ry="2.4"/><ellipse cx="208.0" cy="835.7" rx="2.9" ry="2.4"/><ellipse cx="211.7" cy="835.8" rx="2.9" ry="2.4"/><ellipse cx="216.7" cy="836.0" rx="2.9" ry="2.4"/><ellipse cx="202.9" cy="839.4" rx="2.9" ry="2.4"/><ellipse cx="207.3" cy="839.5" rx="2.9" ry="2.4"/><ellipse cx="211.7" cy="839.7" rx="2.9" ry="2.4"/><ellipse cx="216.4" cy="840.0" rx="2.9" ry="2.4"/><ellipse cx="204.4" cy="842.9" rx="2.9" ry="2.4"/><ellipse cx="209.0" cy="843.0" rx="2.9" ry="2.4"/><ellipse cx="213.2" cy="842.2" rx="2.9" ry="2.4"/><ellipse cx="217.8" cy="843.0" rx="2.9" ry="2.4"/><ellipse cx="201.7" cy="845.8" rx="2.9" ry="2.4"/><ellipse cx="205.7" cy="845.4" rx="2.9" ry="2.4"/><ellipse cx="210.0" cy="845.8" rx="2.9" ry="2.4"/><ellipse cx="213.8" cy="845.3" rx="2.9" ry="2.4"/><ellipse cx="218.4" cy="846.2" rx="2.9" ry="2.4"/><ellipse cx="203.6" cy="848.7" rx="2.9" ry="2.4"/><ellipse cx="207.6" cy="848.1" rx="2.9" ry="2.4"/><ellipse cx="211.2" cy="848.7" rx="2.9" ry="2.4"/><ellipse cx="215.4" cy="847.9" rx="2.9" ry="2.4"/><ellipse cx="205.3" cy="850.5" rx="2.9" ry="2.4"/><ellipse cx="210.0" cy="850.8" rx="2.9" ry="2.4"/><ellipse cx="214.8" cy="851.5" rx="2.9" ry="2.4"/><ellipse cx="203.1" cy="854.1" rx="2.9" ry="2.4"/><ellipse cx="207.4" cy="853.2" rx="2.9" ry="2.4"/><ellipse cx="212.2" cy="853.1" rx="2.9" ry="2.4"/><ellipse cx="216.4" cy="853.5" rx="2.9" ry="2.4"/><ellipse cx="202.6" cy="855.5" rx="2.9" ry="2.4"/><ellipse cx="206.9" cy="856.2" rx="2.9" ry="2.4"/><ellipse cx="212.0" cy="856.3" rx="2.9" ry="2.4"/><ellipse cx="217.2" cy="855.7" rx="2.9" ry="2.4"/><ellipse cx="201.9" cy="858.5" rx="2.9" ry="2.4"/><ellipse cx="206.1" cy="858.6" rx="2.9" ry="2.4"/><ellipse cx="210.0" cy="858.6" rx="2.9" ry="2.4"/><ellipse cx="214.4" cy="858.5" rx="2.9" ry="2.4"/><ellipse cx="218.0" cy="858.7" rx="2.9" ry="2.4"/><ellipse cx="199.7" cy="860.6" rx="2.9" ry="2.4"/><ellipse cx="204.2" cy="860.8" rx="2.9" ry="2.4"/><ellipse cx="207.8" cy="860.3" rx="2.9" ry="2.4"/><ellipse cx="211.6" cy="860.9" rx="2.9" ry="2.4"/><ellipse cx="215.2" cy="860.9" rx="2.9" ry="2.4"/><ellipse cx="219.6" cy="860.4" rx="2.9" ry="2.4"/><ellipse cx="207.0" cy="864.6" rx="2.9" ry="2.4"/><ellipse cx="212.3" cy="864.5" rx="2.9" ry="2.4"/><ellipse cx="206.6" cy="867.7" rx="2.9" ry="2.4"/><ellipse cx="209.4" cy="867.1" rx="2.9" ry="2.4"/><ellipse cx="213.2" cy="868.0" rx="2.9" ry="2.4"/><ellipse cx="205.3" cy="869.9" rx="2.9" ry="2.4"/><ellipse cx="209.8" cy="869.7" rx="2.9" ry="2.4"/><ellipse cx="213.9" cy="869.7" rx="2.9" ry="2.4"/><ellipse cx="204.2" cy="874.1" rx="2.9" ry="2.4"/><ellipse cx="207.7" cy="873.9" rx="2.9" ry="2.4"/><ellipse cx="211.7" cy="873.5" rx="2.9" ry="2.4"/><ellipse cx="215.2" cy="874.2" rx="2.9" ry="2.4"/><ellipse cx="165.1" cy="878.7" rx="2.9" ry="2.4"/><ellipse cx="168.1" cy="878.7" rx="2.9" ry="2.4"/><ellipse cx="171.0" cy="878.7" rx="2.9" ry="2.4"/><ellipse cx="174.0" cy="878.7" rx="2.9" ry="2.4"/><ellipse cx="177.0" cy="878.7" rx="2.9" ry="2.4"/><ellipse cx="179.9" cy="878.7" rx="2.9" ry="2.4"/><ellipse cx="182.9" cy="878.7" rx="2.9" ry="2.4"/><ellipse cx="185.9" cy="878.7" rx="2.9" ry="2.4"/><ellipse cx="188.9" cy="878.7" rx="2.9" ry="2.4"/><ellipse cx="191.8" cy="878.7" rx="2.9" ry="2.4"/><ellipse cx="194.8" cy="878.7" rx="2.9" ry="2.4"/><ellipse cx="197.8" cy="878.7" rx="2.9" ry="2.4"/><ellipse cx="200.7" cy="878.7" rx="2.9" ry="2.4"/><ellipse cx="203.7" cy="878.7" rx="2.9" ry="2.4"/><ellipse cx="206.7" cy="878.7" rx="2.9" ry="2.4"/><ellipse cx="209.6" cy="878.7" rx="2.9" ry="2.4"/><ellipse cx="212.6" cy="878.7" rx="2.9" ry="2.4"/><ellipse cx="215.6" cy="878.7" rx="2.9" ry="2.4"/><ellipse cx="218.6" cy="878.7" rx="2.9" ry="2.4"/><ellipse cx="221.5" cy="878.7" rx="2.9" ry="2.4"/><ellipse cx="224.5" cy="878.7" rx="2.9" ry="2.4"/><ellipse cx="227.5" cy="878.7" rx="2.9" ry="2.4"/><ellipse cx="230.4" cy="878.7" rx="2.9" ry="2.4"/><ellipse cx="233.4" cy="878.7" rx="2.9" ry="2.4"/><ellipse cx="236.4" cy="878.7" rx="2.9" ry="2.4"/><ellipse cx="239.3" cy="878.7" rx="2.9" ry="2.4"/><ellipse cx="242.3" cy="878.7" rx="2.9" ry="2.4"/><ellipse cx="245.3" cy="878.7" rx="2.9" ry="2.4"/><ellipse cx="248.3" cy="878.7" rx="2.9" ry="2.4"/><ellipse cx="251.2" cy="878.7" rx="2.9" ry="2.4"/><ellipse cx="254.2" cy="878.7" rx="2.9" ry="2.4"/><ellipse cx="211.1" cy="883.8" rx="2.9" ry="2.4"/><ellipse cx="208.9" cy="888.0" rx="2.9" ry="2.4"/><ellipse cx="208.0" cy="893.6" rx="2.9" ry="2.4"/><ellipse cx="211.1" cy="895.0" rx="2.9" ry="2.4"/><ellipse cx="205.4" cy="898.2" rx="2.9" ry="2.4"/><ellipse cx="216.8" cy="899.1" rx="2.9" ry="2.4"/><ellipse cx="201.9" cy="902.3" rx="2.9" ry="2.4"/><ellipse cx="206.3" cy="902.1" rx="2.9" ry="2.4"/><ellipse cx="210.6" cy="901.3" rx="2.9" ry="2.4"/><ellipse cx="213.7" cy="902.1" rx="2.9" ry="2.4"/><ellipse cx="205.4" cy="907.0" rx="2.9" ry="2.4"/><ellipse cx="211.1" cy="905.2" rx="2.9" ry="2.4"/><ellipse cx="214.6" cy="905.2" rx="2.9" ry="2.4"/><ellipse cx="209.8" cy="911.8" rx="2.9" ry="2.4"/><ellipse cx="209.8" cy="920.0" rx="2.9" ry="2.4"/><ellipse cx="209.8" cy="931.2" rx="2.9" ry="2.4"/></g>
<g font-size="22" fill="#2d2d2d" stroke="#2d2d2d"><text x="375" y="709.4">D</text><text x="399.9" y="709.4">)</text></g>
<g stroke="#000" stroke-width="2.2" fill="none">
<path d="M471.9,711.5 L471.9,947 M461,945.9 L645.6,945.9"/>
<path d="M461,712.60 L471.9,712.60 M461,759.26 L471.9,759.26 M461,805.92 L471.9,805.92 M461,852.58 L471.9,852.58 M461,899.24 L471.9,899.24 M461,945.90 L471.9,945.90 M557.9,945.9 L557.9,955.7"/>
</g>
<g font-size="17.5" fill="#111" text-anchor="end" stroke="#111"><text x="456" y="720.7">10<tspan font-size="11.3" dy="-5.5">6</tspan></text><text x="456" y="767.4">10<tspan font-size="11.3" dy="-5.5">5</tspan></text><text x="456" y="814.0">10<tspan font-size="11.3" dy="-5.5">4</tspan></text><text x="456" y="860.7">10<tspan font-size="11.3" dy="-5.5">3</tspan></text><text x="456" y="907.3">10<tspan font-size="11.3" dy="-5.5">2</tspan></text><text x="456" y="954.0">10<tspan font-size="11.3" dy="-5.5">1</tspan></text></g>
<text transform="translate(407.5,826.3) rotate(-90)" font-size="20.5" fill="#111" text-anchor="middle" stroke="#111">rAAV5 (vg/cell)</text>
<g fill="#000"><circle cx="548.4" cy="734.9" r="2.55"/><circle cx="554.8" cy="735.2" r="2.55"/><circle cx="561.1" cy="739.2" r="2.55"/><circle cx="557.7" cy="753.5" r="2.55"/><circle cx="557.7" cy="763.4" r="2.55"/><circle cx="548.5" cy="771.1" r="2.55"/><circle cx="554.7" cy="773.5" r="2.55"/><circle cx="561.1" cy="772.4" r="2.55"/><circle cx="542.3" cy="778.6" r="2.55"/><circle cx="548.5" cy="780.4" r="2.55"/><circle cx="554.7" cy="782.0" r="2.55"/><circle cx="561.2" cy="783.0" r="2.55"/><circle cx="567.3" cy="782.3" r="2.55"/><circle cx="548.5" cy="785.5" r="2.55"/><circle cx="573.5" cy="787.2" r="2.55"/><circle cx="567.3" cy="790.4" r="2.55"/><circle cx="542.3" cy="791.5" r="2.55"/><circle cx="573.5" cy="792.3" r="2.55"/><circle cx="561.2" cy="793.2" r="2.55"/><circle cx="548.5" cy="794.7" r="2.55"/><circle cx="554.7" cy="794.8" r="2.55"/><circle cx="561.2" cy="798.1" r="2.55"/><circle cx="567.3" cy="798.5" r="2.55"/><circle cx="573.5" cy="798.8" r="2.55"/><circle cx="548.5" cy="800.1" r="2.55"/><circle cx="542.3" cy="800.5" r="2.55"/><circle cx="554.7" cy="801.2" r="2.55"/><circle cx="561.2" cy="804.2" r="2.55"/><circle cx="573.5" cy="804.2" r="2.55"/><circle cx="548.5" cy="805.6" r="2.55"/><circle cx="542.3" cy="807.2" r="2.55"/><circle cx="523.5" cy="809.3" r="2.55"/><circle cx="529.7" cy="810.1" r="2.55"/><circle cx="535.9" cy="810.7" r="2.55"/><circle cx="567.3" cy="810.0" r="2.55"/><circle cx="573.5" cy="810.5" r="2.55"/><circle cx="579.7" cy="809.8" r="2.55"/><circle cx="586.0" cy="809.4" r="2.55"/><circle cx="592.3" cy="809.6" r="2.55"/><circle cx="548.5" cy="811.0" r="2.55"/><circle cx="542.3" cy="812.3" r="2.55"/><circle cx="554.7" cy="813.4" r="2.55"/><circle cx="561.2" cy="813.6" r="2.55"/><circle cx="567.3" cy="814.7" r="2.55"/><circle cx="579.7" cy="814.4" r="2.55"/><circle cx="529.7" cy="814.9" r="2.55"/><circle cx="523.5" cy="815.8" r="2.55"/><circle cx="535.9" cy="817.1" r="2.55"/><circle cx="573.5" cy="816.7" r="2.55"/><circle cx="548.5" cy="818.2" r="2.55"/><circle cx="554.7" cy="818.9" r="2.55"/><circle cx="567.3" cy="818.9" r="2.55"/><circle cx="579.7" cy="819.0" r="2.55"/><circle cx="517.3" cy="823.6" r="2.55"/><circle cx="517.3" cy="838.4" r="2.55"/><circle cx="517.3" cy="844.3" r="2.55"/><circle cx="517.3" cy="849.2" r="2.55"/><circle cx="523.5" cy="820.5" r="2.55"/><circle cx="523.5" cy="834.6" r="2.55"/><circle cx="523.5" cy="840.2" r="2.55"/><circle cx="523.5" cy="844.9" r="2.55"/><circle cx="529.7" cy="823.6" r="2.55"/><circle cx="529.7" cy="834.1" r="2.55"/><circle cx="529.7" cy="840.2" r="2.55"/><circle cx="529.7" cy="846.2" r="2.55"/><circle cx="535.9" cy="821.9" r="2.55"/><circle cx="535.9" cy="826.8" r="2.55"/><circle cx="535.9" cy="831.9" r="2.55"/><circle cx="535.9" cy="839.5" r="2.55"/><circle cx="535.9" cy="844.6" r="2.55"/><circle cx="535.9" cy="849.3" r="2.55"/><circle cx="535.9" cy="855.0" r="2.55"/><circle cx="542.3" cy="827.3" r="2.55"/><circle cx="542.3" cy="839.5" r="2.55"/><circle cx="542.3" cy="846.8" r="2.55"/><circle cx="542.3" cy="853.3" r="2.55"/><circle cx="548.5" cy="823.6" r="2.55"/><circle cx="548.5" cy="830.7" r="2.55"/><circle cx="548.5" cy="837.3" r="2.55"/><circle cx="548.5" cy="842.0" r="2.55"/><circle cx="548.5" cy="847.1" r="2.55"/><circle cx="548.5" cy="851.9" r="2.55"/><circle cx="554.7" cy="824.6" r="2.55"/><circle cx="554.7" cy="830.2" r="2.55"/><circle cx="554.7" cy="842.0" r="2.55"/><circle cx="554.7" cy="847.1" r="2.55"/><circle cx="554.7" cy="852.4" r="2.55"/><circle cx="554.7" cy="857.5" r="2.55"/><circle cx="554.7" cy="863.0" r="2.55"/><circle cx="561.2" cy="824.1" r="2.55"/><circle cx="561.2" cy="830.3" r="2.55"/><circle cx="561.2" cy="842.6" r="2.55"/><circle cx="561.2" cy="847.1" r="2.55"/><circle cx="561.2" cy="852.6" r="2.55"/><circle cx="561.2" cy="859.7" r="2.55"/><circle cx="561.1" cy="866.5" r="2.55"/><circle cx="567.3" cy="824.9" r="2.55"/><circle cx="567.3" cy="830.7" r="2.55"/><circle cx="567.3" cy="842.4" r="2.55"/><circle cx="567.3" cy="848.2" r="2.55"/><circle cx="567.3" cy="853.0" r="2.55"/><circle cx="573.5" cy="821.9" r="2.55"/><circle cx="573.5" cy="826.7" r="2.55"/><circle cx="573.5" cy="842.7" r="2.55"/><circle cx="573.5" cy="849.9" r="2.55"/><circle cx="573.5" cy="855.1" r="2.55"/><circle cx="579.7" cy="824.1" r="2.55"/><circle cx="579.7" cy="828.9" r="2.55"/><circle cx="579.7" cy="838.4" r="2.55"/><circle cx="579.7" cy="844.2" r="2.55"/><circle cx="579.7" cy="848.6" r="2.55"/><circle cx="579.7" cy="853.3" r="2.55"/><circle cx="586.0" cy="823.0" r="2.55"/><circle cx="586.0" cy="839.5" r="2.55"/><circle cx="586.0" cy="846.5" r="2.55"/><circle cx="586.0" cy="851.5" r="2.55"/><circle cx="592.2" cy="822.7" r="2.55"/><circle cx="592.2" cy="838.2" r="2.55"/><circle cx="592.2" cy="843.1" r="2.55"/><circle cx="592.2" cy="848.9" r="2.55"/><circle cx="598.6" cy="822.9" r="2.55"/><circle cx="598.6" cy="839.8" r="2.55"/><circle cx="598.6" cy="844.9" r="2.55"/><circle cx="598.6" cy="849.5" r="2.55"/><circle cx="548.6" cy="888.0" r="2.55"/><circle cx="567.3" cy="886.5" r="2.55"/><circle cx="554.8" cy="891.6" r="2.55"/><circle cx="560.9" cy="891.2" r="2.55"/><circle cx="554.8" cy="897.3" r="2.55"/><circle cx="567.3" cy="896.5" r="2.55"/><circle cx="573.5" cy="898.8" r="2.55"/><circle cx="542.2" cy="902.6" r="2.55"/><circle cx="554.8" cy="902.9" r="2.55"/><circle cx="560.9" cy="900.9" r="2.55"/><circle cx="567.3" cy="902.3" r="2.55"/><circle cx="557.7" cy="915.7" r="2.55"/><circle cx="557.7" cy="926.2" r="2.55"/></g>
</svg>
</body></html>
